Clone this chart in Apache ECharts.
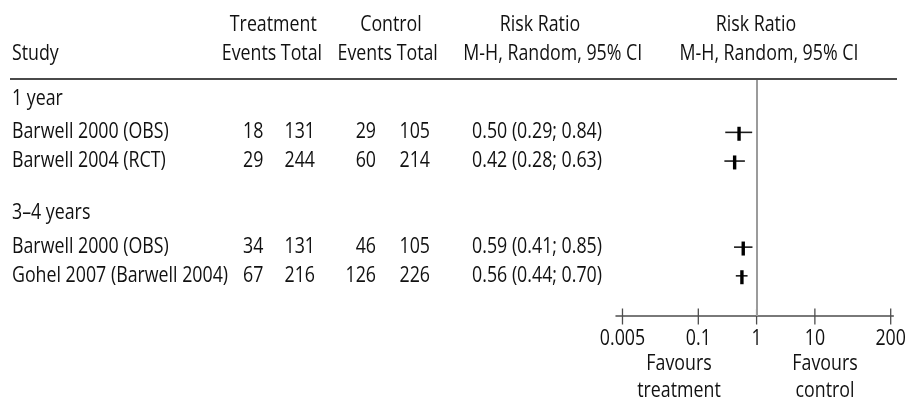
<!DOCTYPE html>
<html>
<head>
<meta charset="utf-8">
<script src="https://cdn.jsdelivr.net/npm/echarts@6/dist/echarts.min.js"></script>
<style>
  html, body { margin: 0; padding: 0; background: #fff; }
  #chart { width: 905px; height: 400px; }
</style>
</head>
<body>
<div id="chart"></div>
<script>
// Study table and risk ratios (M-H, random effects, 95% CI)
const groups = ['1 year', '3–4 years'];
const groupRows = [0, 4];
const studies = ['Barwell 2000 (OBS)', 'Barwell 2004 (RCT)', 'Barwell 2000 (OBS)', 'Gohel 2007 (Barwell 2004)'];
const studyRows = [1, 2, 5, 6];
const treatEvents = [18, 29, 34, 67];
const treatTotal = [131, 244, 131, 216];
const ctrlEvents = [29, 60, 46, 126];
const ctrlTotal = [105, 214, 105, 226];
const riskRatio = [0.50, 0.42, 0.59, 0.56];
const ciLower = [0.29, 0.28, 0.41, 0.44];
const ciUpper = [0.84, 0.63, 0.85, 0.70];
const axisTicks = [0.005, 0.1, 1, 10, 200];
const axisTickLabels = ['0.005', '0.1', '1', '10', '200'];

// Typography
const INK = '#111';
const FONT = '"Open Sans", sans-serif';
const FS = 17.8;
const SY = 1.18;

const ROW_MIN = -0.86, ROW_MAX = 7.4;

function txt(x, y, s, align, extra) {
  return Object.assign({
    type: 'text', x: x, y: y, scaleY: SY,
    style: {
      text: String(s), fill: INK, textFill: INK,
      fontSize: FS, fontFamily: FONT,
      align: align, textAlign: align,
      verticalAlign: 'middle', textVerticalAlign: 'middle'
    }
  }, extra || {});
}

const chart = echarts.init(document.getElementById('chart'), null, { renderer: 'canvas' });

const COL = { study: 12, tEv: 263.3, tTot: 315, cEv: 376, cTot: 430, rr: 602 };

const option = {
  animation: false,
  backgroundColor: '#fff',
  grid: { left: 616, right: 11.7, top: 79, bottom: 84, containLabel: false },
  xAxis: {
    type: 'log', logBase: 10, min: 0.00387, max: 221.6, position: 'bottom',
    axisLine: { show: true, onZero: false, lineStyle: { color: '#4d4d4d', width: 1.5 } },
    axisTick: { show: false }, axisLabel: { show: false }, splitLine: { show: false }
  },
  yAxis: {
    type: 'value', inverse: true, min: ROW_MIN, max: ROW_MAX, show: false
  },
  graphic: [
    { type: 'line', shape: { x1: 10, y1: 79, x2: 897, y2: 79 }, style: { stroke: '#4a4a4a', lineWidth: 2 }, z: 10 },
    txt(273.3, 25.5, 'Treatment', 'center'),
    txt(391, 25.5, 'Control', 'center'),
    txt(540, 25.5, 'Risk Ratio', 'center'),
    txt(756, 25.5, 'Risk Ratio', 'center'),
    txt(12, 54.5, 'Study', 'left'),
    txt(271.9, 54.5, 'Events Total', 'center'),
    txt(387.7, 54.5, 'Events Total', 'center'),
    txt(552.8, 54.5, 'M-H, Random, 95% CI', 'center'),
    txt(769, 54.5, 'M-H, Random, 95% CI', 'center'),
    txt(679, 364, 'Favours', 'center'),
    txt(679, 391, 'treatment', 'center'),
    txt(825, 364, 'Favours', 'center'),
    txt(825, 391, 'control', 'center')
  ],
  series: [
    {
      // subgroup headings
      type: 'custom', name: 'groups', clip: false,
      data: groupRows.map(r => [1, r]),
      renderItem: function (params, api) {
        const y = api.coord([1, api.value(1)])[1] - 5;
        return txt(COL.study, y, groups[params.dataIndex], 'left');
      }
    },
    {
      // per-study table columns
      type: 'custom', name: 'table', clip: false,
      data: studyRows.map(r => [1, r]),
      renderItem: function (params, api) {
        const i = params.dataIndex;
        const y = api.coord([1, api.value(1)])[1];
        const rrText = riskRatio[i].toFixed(2) + ' (' + ciLower[i].toFixed(2) + '; ' + ciUpper[i].toFixed(2) + ')';
        return {
          type: 'group',
          children: [
            txt(COL.study, y, studies[i], 'left'),
            txt(COL.tEv, y, treatEvents[i], 'right'),
            txt(COL.tTot, y, treatTotal[i], 'right'),
            txt(COL.cEv, y, ctrlEvents[i], 'right'),
            txt(COL.cTot, y, ctrlTotal[i], 'right'),
            txt(COL.rr, y, rrText, 'right')
          ]
        };
      }
    },
    {
      // confidence intervals and point estimates
      type: 'custom', name: 'forest', clip: false,
      data: riskRatio.map((v, i) => [v, ciLower[i], ciUpper[i], studyRows[i]]),
      encode: { x: [0, 1, 2], y: 3 },
      renderItem: function (params, api) {
        const row = api.value(3);
        const p = api.coord([api.value(0), row]);
        const lo = api.coord([api.value(1), row]);
        const hi = api.coord([api.value(2), row]);
        return {
          type: 'group',
          children: [
            { type: 'line', shape: { x1: lo[0], y1: lo[1], x2: hi[0], y2: hi[1] },
              style: { stroke: '#1a1a1a', lineWidth: 1.6 } },
            { type: 'rect', shape: { x: p[0] - 1.7, y: p[1] - 5.6, width: 3.4, height: 14 },
              style: { fill: '#000' } }
          ]
        };
      },
      markLine: {
        silent: true, symbol: 'none', label: { show: false },
        lineStyle: { color: '#9b9b9b', width: 2, type: 'solid' },
        data: [{ xAxis: 1 }]
      }
    },
    {
      // x-axis ticks and tick labels
      type: 'custom', name: 'ticks', clip: false,
      data: axisTicks.map(v => [v, ROW_MAX]),
      renderItem: function (params, api) {
        const p = api.coord([api.value(0), api.value(1)]);
        return {
          type: 'group',
          children: [
            { type: 'line', shape: { x1: p[0], y1: p[1] - 7.5, x2: p[0], y2: p[1] + 8.5 },
              style: { stroke: '#4d4d4d', lineWidth: 1.3 } },
            txt(p[0], p[1] + 23.5, axisTickLabels[params.dataIndex], 'center')
          ]
        };
      }
    }
  ]
};

chart.setOption(option);
</script>
</body>
</html>
